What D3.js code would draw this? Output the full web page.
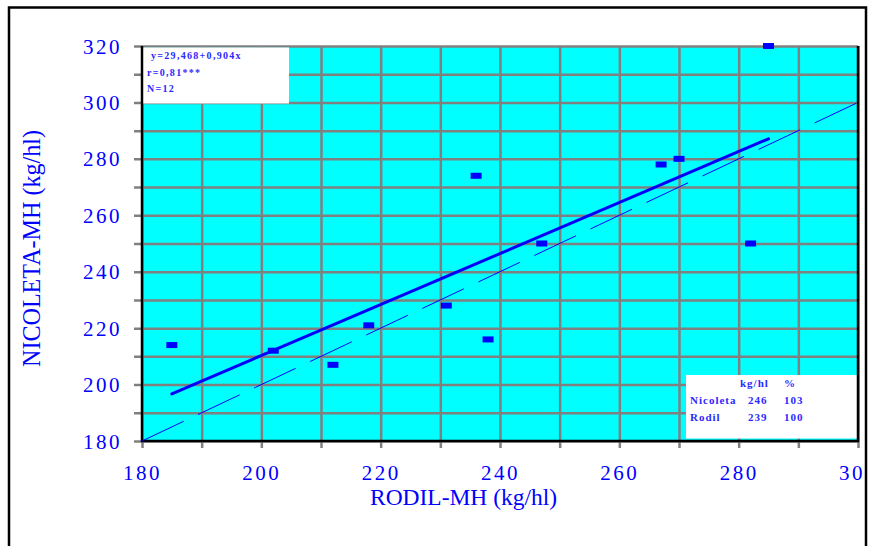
<!DOCTYPE html>
<html>
<head>
<meta charset="utf-8">
<script src="https://cdn.jsdelivr.net/npm/d3@7"></script>
<style>
  body { margin: 0; background: #fff; }
  svg text { font-family: "Liberation Serif", "DejaVu Serif", serif; }
</style>
</head>
<body>
<div id="chart"></div>
<script>
// data
const rodil    = [185, 202, 212, 218, 231, 236, 238, 247, 267, 270, 282, 285];
const nicoleta = [214, 212, 207, 221, 228, 274, 216, 250, 278, 280, 250, 320];
const regression = { a: 29.468, b: 0.904 };
const statsLines = ["y=29,468+0,904x", "r=0,81***", "N=12"];
const meanHeader = ["kg/hl", "%"];
const meanRows = [["Nicoleta", "246", "103"], ["Rodil", "239", "100"]];
const xTicks = d3.range(180, 301, 10);
const yTicks = d3.range(180, 321, 10);
const xLabels = d3.range(180, 301, 20);
const yLabels = d3.range(180, 321, 20);

const W = 869, H = 546;
const blue = "#0000ff";

const svg = d3.select("#chart").append("svg")
    .attr("width", W)
    .attr("height", H);

svg.append("defs").append("clipPath").attr("id", "frame")
    .append("rect").attr("x", 9).attr("y", 7.5).attr("width", 857).attr("height", 560);

const root = svg.append("g").attr("clip-path", "url(#frame)");

const x = d3.scaleLinear().domain([180, 300]).range([142, 858]);
const y = d3.scaleLinear().domain([180, 320]).range([441, 46]);

// plot background
root.append("rect")
    .attr("x", x(180)).attr("y", y(320))
    .attr("width", x(300) - x(180)).attr("height", y(180) - y(320))
    .attr("fill", "#00ffff");

// grid + outer ticks (gray)
const gx = root.append("g")
    .attr("transform", `translate(0,${y(180)})`)
    .call(d3.axisBottom(x).tickValues(xTicks).tickSize(7).tickFormat(""));
gx.select(".domain").remove();
gx.selectAll(".tick line")
    .attr("y1", y(320) - y(180))
    .attr("stroke", "#808080").attr("stroke-width", 2.5);

const gy = root.append("g")
    .attr("transform", `translate(${x(180)},0)`)
    .call(d3.axisLeft(y).tickValues(yTicks).tickSize(8).tickFormat(""));
gy.select(".domain").remove();
gy.selectAll(".tick line")
    .attr("x1", x(300) - x(180))
    .attr("stroke", "#808080").attr("stroke-width", 2.5);

// white text boxes
root.append("rect")
    .attr("x", x(180) + 1).attr("y", y(320) + 1.5)
    .attr("width", 146).attr("height", 56)
    .attr("fill", "#fff");
root.append("rect")
    .attr("x", 686).attr("y", 375)
    .attr("width", x(300) - 686).attr("height", 63.5)
    .attr("fill", "#fff");

// black borders left, bottom, right
root.append("path")
    .attr("d", `M${x(180)},${y(320)}V${y(180)}H${x(300)}V${y(320)}`)
    .attr("fill", "none").attr("stroke", "#000").attr("stroke-width", 2.5);

// 1:1 line
root.append("line")
    .attr("x1", x(180)).attr("y1", y(180))
    .attr("x2", x(300)).attr("y2", y(300))
    .attr("stroke", blue).attr("stroke-width", 1)
    .attr("stroke-dasharray", "46,16");

// regression line
const xr = d3.extent(rodil);
root.append("line")
    .attr("x1", x(xr[0])).attr("y1", y(regression.a + regression.b * xr[0]))
    .attr("x2", x(xr[1])).attr("y2", y(regression.a + regression.b * xr[1]))
    .attr("stroke", blue).attr("stroke-width", 3).attr("stroke-linecap", "round");

// markers
root.selectAll("rect.pt")
    .data(rodil.map((d, i) => [d, nicoleta[i]]))
    .join("rect")
    .attr("class", "pt")
    .attr("x", d => x(d[0]) - 5.5)
    .attr("y", d => y(d[1]) - 3)
    .attr("width", 11).attr("height", 6)
    .attr("fill", blue);

// tick labels
const lx = root.append("g")
    .attr("transform", `translate(0,${y(180)})`)
    .call(d3.axisBottom(x).tickValues(xLabels).tickSize(0).tickPadding(25).tickFormat(d3.format("d")));
lx.select(".domain").remove();
lx.selectAll("text")
    .attr("fill", blue).attr("font-size", 21)
    .attr("letter-spacing", 2.5).attr("dy", 0).attr("y", 480 - y(180));

const ly = root.append("g")
    .attr("transform", `translate(${x(180)},0)`)
    .call(d3.axisLeft(y).tickValues(yLabels).tickSize(0).tickPadding(20).tickFormat(d3.format("d")));
ly.select(".domain").remove();
ly.selectAll("text")
    .attr("fill", blue).attr("font-size", 21)
    .attr("letter-spacing", 2.5).attr("dy", "0.34em");

// axis titles
root.append("text")
    .attr("x", 370).attr("y", 504.5)
    .attr("textLength", 187).attr("lengthAdjust", "spacingAndGlyphs")
    .attr("font-size", 24).attr("fill", blue)
    .text("RODIL-MH (kg/hl)");

root.append("text")
    .attr("transform", "translate(39.5,367) rotate(-90)")
    .attr("textLength", 237).attr("lengthAdjust", "spacingAndGlyphs")
    .attr("font-size", 25).attr("fill", blue)
    .text("NICOLETA-MH (kg/hl)");

// regression stats
const statsPos = [[151, 59], [147, 75.5], [147, 92]];
root.selectAll("text.stat")
    .data(statsLines)
    .join("text")
    .attr("class", "stat")
    .attr("x", (d, i) => statsPos[i][0])
    .attr("y", (d, i) => statsPos[i][1])
    .attr("font-size", 10).attr("font-weight", "bold")
    .attr("letter-spacing", 1.3).attr("fill", "#2a2aff")
    .text(d => d);

// means table
const colX = [690, 748, 784];
const tbl = root.append("g").attr("font-size", 11).attr("font-weight", "bold")
    .attr("letter-spacing", 1).attr("fill", "#2a2aff");
tbl.append("text").attr("x", 740).attr("y", 386.5).text(meanHeader[0]);
tbl.append("text").attr("x", colX[2]).attr("y", 386.5).text(meanHeader[1]);
meanRows.forEach((row, r) => {
    row.forEach((cell, c) => {
        tbl.append("text")
            .attr("x", colX[c]).attr("y", 404 + r * 16.7)
            .text(cell);
    });
});

// outer frame
svg.append("rect")
    .attr("x", 9).attr("y", 7.5)
    .attr("width", 857).attr("height", 560)
    .attr("fill", "none").attr("stroke", "#000").attr("stroke-width", 2.5);
</script>
</body>
</html>
